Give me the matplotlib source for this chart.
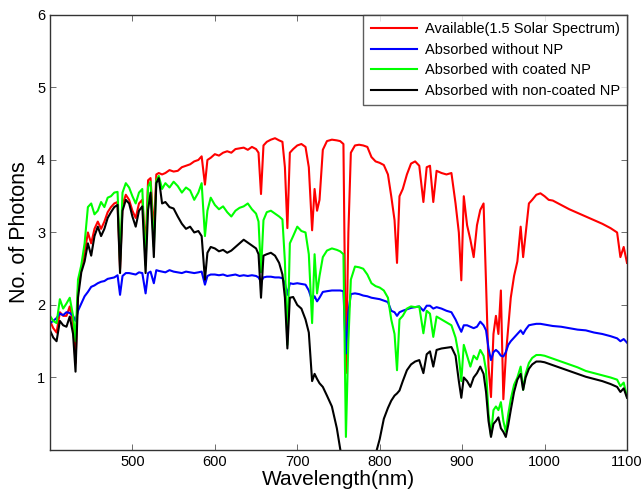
import matplotlib
matplotlib.use("Agg")
import matplotlib.pyplot as plt

plt.rcParams['font.family'] = ['Liberation Sans', 'DejaVu Sans']

# wavelength grid (nm), rows of ten
wavelength = [
    400, 404, 408, 412, 416, 420, 424, 428, 431, 434,
    438, 442, 446, 450, 454, 458, 462, 466, 470, 474,
    478, 482, 485, 488, 492, 496, 500, 504, 508, 512,
    516, 519, 522, 526, 529, 532, 536, 540, 545, 550,
    555, 560, 565, 570, 575, 580, 584, 588, 591, 595,
    600, 605, 610, 615, 620, 625, 630, 635, 640, 645,
    650, 653, 656, 659, 663, 668, 673, 678, 682, 685,
    688, 691, 695, 700, 705, 710, 714, 718, 721, 724,
    727, 731, 736, 742, 748, 752, 756, 759, 762, 765,
    770, 775, 780, 785, 790, 795, 800, 805, 810, 814,
    818, 821, 824, 828, 833, 838, 843, 848, 853, 857,
    861, 865, 869, 875, 881, 887, 892, 896, 899, 902,
    906, 910, 914, 918, 922, 926, 929, 932, 935, 938,
    941, 944, 947, 950, 953, 956, 959, 963, 967, 971,
    974, 977, 981, 985, 990, 995, 1000, 1005, 1010, 1020,
    1030, 1040, 1050, 1060, 1070, 1080, 1088, 1092, 1096, 1100,
]

available = [
    1.78, 1.68, 1.62, 1.90, 1.85, 1.85, 1.98, 1.75, 1.20, 2.22,
    2.50, 2.72, 3.00, 2.85, 3.05, 3.15, 3.05, 3.15, 3.28, 3.35,
    3.40, 3.42, 2.50, 3.38, 3.52, 3.45, 3.30, 3.20, 3.40, 3.45,
    2.80, 3.72, 3.75, 3.00, 3.80, 3.82, 3.80, 3.82, 3.86, 3.84,
    3.85, 3.90, 3.92, 3.94, 3.98, 4.00, 4.05, 3.66, 4.00, 4.03,
    4.08, 4.06, 4.10, 4.12, 4.10, 4.15, 4.16, 4.17, 4.14, 4.18,
    4.15, 4.10, 3.53, 4.20, 4.25, 4.28, 4.30, 4.27, 4.25, 3.90,
    3.06, 4.10, 4.15, 4.20, 4.22, 4.18, 3.90, 3.03, 3.60, 3.30,
    3.45, 4.14, 4.26, 4.28, 4.27, 4.26, 4.22, 1.06, 3.00, 4.10,
    4.20, 4.21, 4.20, 4.18, 4.04, 3.98, 3.96, 3.93, 3.80, 3.50,
    3.17, 2.58, 3.50, 3.60, 3.80, 3.95, 3.98, 3.92, 3.42, 3.90,
    3.92, 3.42, 3.85, 3.82, 3.80, 3.82, 3.40, 3.00, 2.34, 3.50,
    3.10, 2.90, 2.66, 3.10, 3.31, 3.40, 2.30, 1.15, 0.73, 1.60,
    1.85, 1.60, 2.20, 0.70, 1.30, 1.70, 2.10, 2.40, 2.60, 3.08,
    2.66, 2.98, 3.40, 3.45, 3.52, 3.54, 3.50, 3.45, 3.44, 3.38,
    3.32, 3.27, 3.22, 3.17, 3.12, 3.06, 3.00, 2.66, 2.80, 2.58,
]

without_np = [
    1.75, 1.78, 1.82, 1.88, 1.86, 1.90, 1.89, 1.85, 1.78, 1.92,
    2.02, 2.12, 2.18, 2.25, 2.27, 2.30, 2.32, 2.33, 2.36, 2.37,
    2.38, 2.41, 2.14, 2.40, 2.44, 2.44, 2.43, 2.42, 2.45, 2.44,
    2.16, 2.44, 2.46, 2.30, 2.48, 2.47, 2.46, 2.45, 2.48, 2.46,
    2.45, 2.44, 2.46, 2.45, 2.44, 2.45, 2.46, 2.28, 2.40, 2.42,
    2.42, 2.41, 2.42, 2.40, 2.41, 2.42, 2.40, 2.41, 2.40, 2.41,
    2.40, 2.38, 2.32, 2.38, 2.39, 2.39, 2.38, 2.38, 2.37, 2.30,
    2.14, 2.30, 2.29, 2.30, 2.29, 2.28, 2.20, 2.06, 2.12, 2.05,
    2.10, 2.18, 2.19, 2.20, 2.20, 2.20, 2.19, 1.33, 1.90, 2.15,
    2.16, 2.15, 2.13, 2.12, 2.10, 2.09, 2.08, 2.06, 2.04, 1.92,
    1.90, 1.85, 1.90, 1.92, 1.94, 1.96, 1.97, 1.98, 1.92, 1.99,
    1.99, 1.95, 1.97, 1.95, 1.92, 1.90, 1.80, 1.70, 1.63, 1.72,
    1.72, 1.70, 1.68, 1.70, 1.77, 1.72, 1.65, 1.40, 1.24, 1.35,
    1.38, 1.35, 1.30, 1.29, 1.35, 1.45, 1.50, 1.55, 1.60, 1.65,
    1.60, 1.66, 1.72, 1.73, 1.74, 1.74, 1.73, 1.72, 1.71, 1.70,
    1.68, 1.66, 1.65, 1.62, 1.60, 1.57, 1.54, 1.50, 1.53, 1.48,
]

coated_np = [
    1.85, 1.78, 1.75, 2.08, 1.95, 2.02, 2.10, 1.85, 1.50, 2.35,
    2.55, 2.85, 3.35, 3.40, 3.25, 3.30, 3.42, 3.35, 3.48, 3.50,
    3.55, 3.56, 2.60, 3.55, 3.68, 3.62, 3.50, 3.40, 3.55, 3.60,
    2.55, 3.63, 3.70, 2.80, 3.72, 3.78, 3.60, 3.68, 3.62, 3.70,
    3.64, 3.55, 3.62, 3.58, 3.45, 3.55, 3.68, 2.95, 3.30, 3.48,
    3.38, 3.32, 3.36, 3.28, 3.22, 3.30, 3.34, 3.36, 3.40, 3.32,
    3.26, 3.15, 2.45, 3.17, 3.28, 3.30, 3.26, 3.22, 3.18, 2.60,
    1.45, 2.85, 2.95, 3.08, 3.02, 3.00, 2.70, 1.75, 2.70, 2.16,
    2.40, 2.66, 2.75, 2.78, 2.76, 2.74, 2.70, 0.18, 1.50, 2.35,
    2.53, 2.52, 2.50, 2.42, 2.30, 2.26, 2.24, 2.20, 2.10, 1.80,
    1.60, 1.10, 1.80, 1.85, 1.95, 1.98, 1.97, 1.98, 1.61, 1.92,
    1.88, 1.56, 1.84, 1.80, 1.76, 1.72, 1.55, 1.30, 0.95, 1.45,
    1.30, 1.15, 1.30, 1.25, 1.38, 1.30, 1.10, 0.50, 0.20, 0.55,
    0.60, 0.55, 0.66, 0.40, 0.25, 0.50, 0.70, 0.90, 1.00, 1.15,
    0.83, 1.05, 1.20, 1.27, 1.31, 1.31, 1.30, 1.28, 1.26, 1.22,
    1.18, 1.14, 1.09, 1.06, 1.03, 1.00, 0.97, 0.88, 0.93, 0.73,
]

noncoated_np = [
    1.65, 1.55, 1.50, 1.78, 1.72, 1.70, 1.84, 1.60, 1.08, 2.10,
    2.45, 2.60, 2.85, 2.68, 2.95, 3.08, 2.95, 3.05, 3.20, 3.28,
    3.35, 3.38, 2.44, 3.30, 3.45, 3.40, 3.22, 3.08, 3.30, 3.36,
    2.44, 3.31, 3.55, 2.66, 3.68, 3.75, 3.40, 3.42, 3.35, 3.33,
    3.22, 3.12, 3.05, 3.08, 3.00, 3.02, 2.95, 2.35, 2.72, 2.80,
    2.78, 2.74, 2.76, 2.72, 2.75, 2.80, 2.85, 2.90, 2.86, 2.82,
    2.78, 2.70, 2.10, 2.68, 2.70, 2.72, 2.68, 2.58, 2.42, 2.10,
    1.40, 2.10, 2.11, 2.00, 1.95, 1.80, 1.62, 0.95, 1.05, 0.98,
    0.92, 0.87, 0.75, 0.60, 0.30, 0.02, -0.25, -0.40, -0.50, -0.55,
    -0.55, -0.55, -0.45, -0.32, -0.20, -0.06, 0.15, 0.43, 0.58, 0.68,
    0.75, 0.78, 0.82, 0.95, 1.10, 1.18, 1.22, 1.24, 1.06, 1.32,
    1.36, 1.15, 1.38, 1.40, 1.41, 1.42, 1.30, 0.95, 0.72, 1.00,
    0.95, 0.87, 1.00, 1.06, 1.15, 1.05, 0.80, 0.40, 0.18, 0.36,
    0.40, 0.45, 0.30, 0.25, 0.18, 0.35, 0.55, 0.80, 0.97, 1.05,
    0.83, 1.00, 1.12, 1.18, 1.22, 1.22, 1.21, 1.19, 1.17, 1.13,
    1.09, 1.05, 1.01, 0.98, 0.95, 0.91, 0.87, 0.80, 0.85, 0.72,
]

labels = ['Available(1.5 Solar Spectrum)', 'Absorbed without NP',
          'Absorbed with coated NP', 'Absorbed with non-coated NP']
colors = ['#ff0000', '#0000ff', '#00ff00', '#000000']

fig = plt.figure(figsize=(6.44, 4.98), dpi=100)
ax = fig.add_axes([0.0776, 0.0964, 0.8960, 0.8736])

series = [available, without_np, coated_np, noncoated_np]
for ys, lab, col in zip(series, labels, colors):
    ax.plot(wavelength, ys, color=col, lw=1.5, label=lab)

ax.set_xlim(400, 1100)
ax.set_ylim(0, 6)
ax.set_xticks([500, 600, 700, 800, 900, 1000, 1100])
ax.set_yticks([1, 2, 3, 4, 5, 6])
ax.tick_params(direction='in', top=True, right=True, labelsize=10.5,
               length=4, width=0.6, color='#555555')
for sp in ax.spines.values():
    sp.set_linewidth(1.0)
    sp.set_color('#333333')

ax.set_xlabel('Wavelength(nm)', fontsize=15, labelpad=1)
ax.set_ylabel('No. of Photons', fontsize=15.5, labelpad=5)

leg = ax.legend(loc='upper right', fontsize=10.5, frameon=True, fancybox=False,
                borderaxespad=0, handlelength=3.2, handletextpad=0.5,
                labelspacing=0.45, borderpad=0.5)
leg.get_frame().set_edgecolor('#333333')
leg.get_frame().set_linewidth(1.0)

fig.savefig('out.png', dpi=100)
